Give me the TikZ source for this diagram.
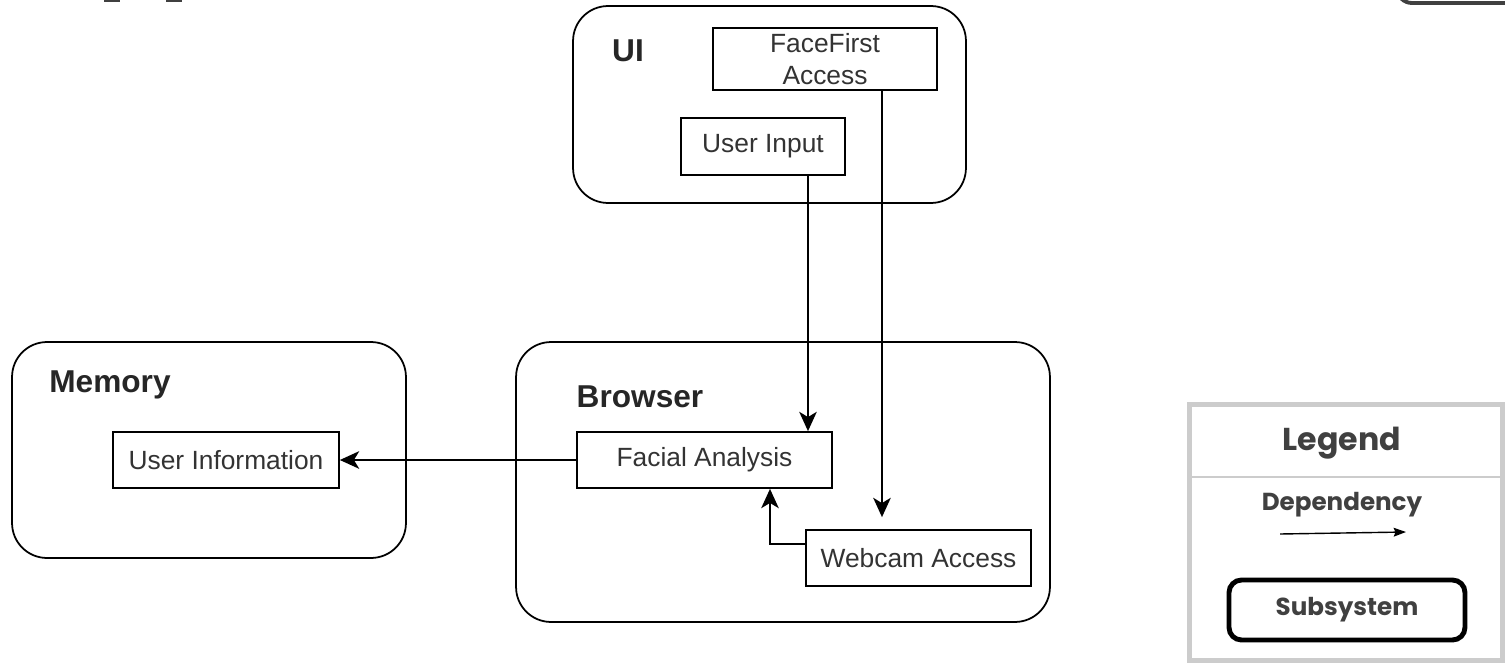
\documentclass[tikz,border=0pt]{standalone}
\usepackage{fontspec}
\setmainfont{Liberation Sans}
\newfontfamily\legendfont{Poppins}
\usetikzlibrary{arrows.meta, positioning}
\definecolor{labelgray}{RGB}{51,51,51}
\definecolor{legendtext}{RGB}{64,64,64}
\definecolor{legendline}{RGB}{204,204,204}

\begin{document}
\begin{tikzpicture}[x=0.02cm, y=-0.02cm,
  subsys/.style={draw, line width=1pt, rounded corners=0.7cm, inner sep=0pt},
  comp/.style={draw, line width=1pt, inner sep=0pt, align=center, text=labelgray, font=\fontsize{15}{18.5}\selectfont},
  subtitle/.style={font=\fontsize{18}{20}\selectfont\bfseries, text=black!85},
  dep/.style={line width=1pt, -{Stealth[length=11pt, width=10pt, inset=3pt]}},
  legtext/.style={font=\legendfont\bfseries\fontsize{14}{17}\selectfont, text=legendtext}
]
  \useasboundingbox (0,0) rectangle (1505,663);
  \clip (0,0) rectangle (1505,663);

  % cropped bits at the top edge
  \fill[legendtext] (104,0) rectangle (120,2);
  \fill[legendtext] (166,0) rectangle (182,2);
  \draw[legendtext, line width=2.2pt, rounded corners=0.3cm] (1397,-30) -- (1397,3) -- (1530,3);

  % UI
  \node[subsys, minimum width=7.86cm, minimum height=3.94cm] (uibox) at (769.5,104.5) {};
  \node[subtitle] (uititle) at (628,51) {UI};
  \node[comp, minimum width=4.48cm, minimum height=1.24cm] (ffa) at (825,59) {FaceFirst\\Access};
  \node[comp, minimum width=3.28cm, minimum height=1.14cm] (uin) at (763,146.5) {User Input};

  % Memory
  \node[subsys, minimum width=7.88cm, minimum height=4.32cm] (mem) at (209,450) {};
  \node[subtitle] (memtitle) at (110,385) {Memory};
  \node[comp, minimum width=4.52cm, minimum height=1.12cm] (uinfo) at (226,460) {User Information};

  % Browser
  \node[subsys, minimum width=10.68cm, minimum height=5.6cm] (brw) at (783,482) {};
  \node[subtitle] (brwtitle) at (640,397) {Browser};
  \node[comp, minimum width=5.1cm, minimum height=1.12cm] (fan) at (704.5,460) {Facial Analysis};
  \node[comp, minimum width=4.5cm, minimum height=1.12cm] (wca) at (918.5,558) {Webcam Access};

  % dependencies
  \draw[dep] ([xshift=0.9cm]uin.south) -- ([xshift=0.9cm]uin.south |- fan.north);
  \draw[dep, shorten >=0.24cm] ([xshift=1.14cm]ffa.south) -- ([xshift=1.14cm]ffa.south |- wca.north);
  \draw[dep] ([yshift=0.28cm]wca.west) -| ([xshift=1.31cm]fan.south);
  \draw[dep] (fan.west) -- (uinfo.east);

  % legend
  \node[draw=legendline, line width=2.8pt, minimum width=6.26cm, minimum height=5.12cm, inner sep=0pt] (legbox) at (1346,532.5) {};
  \draw[legendline, line width=0.6pt] (legbox.west |- 0,477) -- (legbox.east |- 0,477);
  \node[legtext, font=\legendfont\bfseries\fontsize{18}{21}\selectfont] (legtitle) at (1342,443) {Legend};
  \node[legtext] (legdep) at (1342,505) {Dependency};
  \coordinate (arrs) at (1280,534);
  \coordinate (arre) at (1406,532);
  \draw[line width=0.8pt, -{Stealth[length=7pt, width=5pt, inset=1pt]}] (arrs) -- (arre);
  \node[legtext, draw=black, text=legendtext, line width=2.8pt, rounded corners=0.25cm, minimum width=4.72cm, minimum height=1.2cm] (legsub) at (1347,610) {Subsystem};
\end{tikzpicture}
\end{document}
